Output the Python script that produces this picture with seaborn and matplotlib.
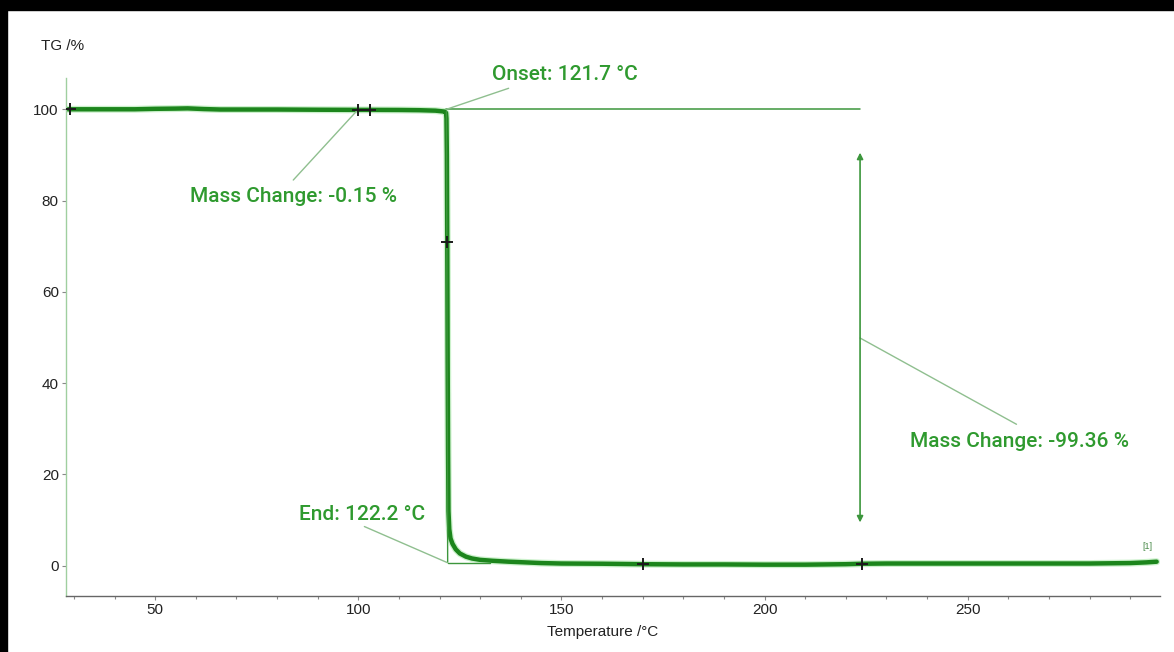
import numpy as np
import pandas as pd
import matplotlib
matplotlib.use("Agg")
import matplotlib.pyplot as plt
from matplotlib.patches import Rectangle
import seaborn as sns

# TG curve
temperature = [28.5, 35, 40, 45, 50, 55, 58, 62, 66, 70, 80, 90, 100, 103, 110, 115, 119,
               121.2, 121.6, 121.7, 121.8, 121.9, 122.0, 122.1, 122.2, 122.4, 122.7, 123.2,
               124, 125, 126.5, 128, 130, 133, 137, 141, 145, 150, 160, 170, 180, 190, 200,
               210, 215, 220, 224, 230, 240, 250, 260, 270, 280, 285, 290, 294, 296.5]
mass = [100.0, 100.0, 100.0, 100.0, 100.1, 100.15, 100.2, 100.05, 99.95, 99.95, 99.95, 99.9,
        99.87, 99.87, 99.85, 99.8, 99.7, 99.5, 99.2, 98.0, 90.0, 71.0, 45.0, 25.0, 12.0,
        8.0, 6.0, 4.8, 3.6, 2.7, 2.0, 1.6, 1.3, 1.1, 0.9, 0.75, 0.6, 0.5, 0.45, 0.35,
        0.3, 0.3, 0.25, 0.25, 0.3, 0.35, 0.45, 0.5, 0.5, 0.5, 0.5, 0.5, 0.5, 0.55, 0.6, 0.75, 0.9]

# evaluation markers on the curve
mark_t = [29.0, 100.0, 103.0, 121.9, 170.0, 224.0]
mark_m = [100.0, 99.87, 99.87, 71.0, 0.35, 0.45]

onset_t = 121.7
end_t = 122.2
step_end = 223.5
mass_change_1 = -0.15
mass_change_2 = -99.36

df = pd.DataFrame({"Temperature": temperature, "TG": mass})

sns.set_style("white")
plt.rcParams["font.family"] = ["Liberation Sans", "DejaVu Sans"]

fig = plt.figure(figsize=(11.74, 6.52), dpi=100)
ax = fig.add_axes([0.056, 0.086, 0.932, 0.794])

green = "#1c851c"
label_green = "#2f9a2f"
thin_green = "#3c963c"

# light halo under the curve, then the curve itself
sns.lineplot(data=df, x="Temperature", y="TG", ax=ax, color="#7fdc7f", lw=5.0, alpha=0.4)
sns.lineplot(data=df, x="Temperature", y="TG", ax=ax, color=green, lw=3.2)

ax.plot(mark_t, mark_m, ls="none", marker="+", ms=9, mew=1.4, color="#1a1a1a", zorder=5)

# onset / end construction lines
ax.plot([onset_t, step_end], [100, 100], color=thin_green, lw=1.1)
ax.plot([onset_t, onset_t + 0.3], [99.6, 0.7], color=thin_green, lw=1.0)
ax.plot([onset_t + 0.3, 132.5], [0.7, 0.7], color=thin_green, lw=1.0)

# double arrow for the step
ax.annotate("", xy=(step_end, 90.5), xytext=(step_end, 9.5),
            arrowprops=dict(arrowstyle="<|-|>", color=thin_green, lw=1.2,
                            mutation_scale=9, shrinkA=0, shrinkB=0))

lead = dict(color="#8fbf8f", lw=1.0)
ax.plot([onset_t, 137.0], [100, 104.6], **lead)
ax.plot([100, 84.0], [100, 84.5], **lead)
ax.plot([101.5, onset_t + 0.2], [8.6, 0.7], **lead)
ax.plot([step_end, 262.0], [49.9, 31.0], **lead)

tf = dict(color=label_green, fontsize=15, fontweight="medium",
          family=["Roboto", "DejaVu Sans"], ha="center", va="center")
ax.text(150.8, 107.6, f"Onset: {onset_t} °C", **tf)
ax.text(84.0, 80.8, f"Mass Change: {mass_change_1} %", **tf)
ax.text(101.0, 11.3, f"End: {end_t} °C", **tf)
ax.text(262.7, 27.3, f"Mass Change: {mass_change_2} %", **tf)
ax.text(294.3, 4.3, "[1]", color="#4a8a4a", fontsize=6.5, ha="center", va="center")

ax.set_xlim(28.0, 297.3)
ax.set_ylim(-6.6, 106.8)
ax.set_xticks([50, 100, 150, 200, 250])
ax.set_xticks(np.arange(30, 297, 10), minor=True)
ax.set_yticks([0, 20, 40, 60, 80, 100])
ax.set_xlabel("")
ax.set_ylabel("")
ax.tick_params(axis="both", which="major", length=3, width=0.8, color="#888888",
               labelsize=11, labelcolor="#222222", direction="out", pad=2)
ax.tick_params(axis="x", which="minor", length=2, width=0.8, color="#888888", bottom=True)
ax.tick_params(axis="x", bottom=True)
ax.tick_params(axis="y", left=True)
for s in ["top", "right"]:
    ax.spines[s].set_visible(False)
ax.spines["left"].set_color("#9fcf9f")
ax.spines["left"].set_linewidth(1.0)
ax.spines["bottom"].set_color("#666666")
ax.spines["bottom"].set_linewidth(1.0)

fig.text(63 / 1174, 1 - 46 / 652, "TG /%", fontsize=11, color="#222222", ha="center", va="center")
fig.text(603 / 1174, 1 - 632 / 652, "Temperature /°C", fontsize=11, color="#222222",
         ha="center", va="center")

# dark frame of the screenshot on top and left
fig.patches.append(Rectangle((0, 1 - 10 / 652), 1, 10 / 652, transform=fig.transFigure,
                             color="black", zorder=10))
fig.patches.append(Rectangle((0, 0), 7 / 1174, 1, transform=fig.transFigure,
                             color="black", zorder=10))

fig.savefig("out.png", dpi=100)
